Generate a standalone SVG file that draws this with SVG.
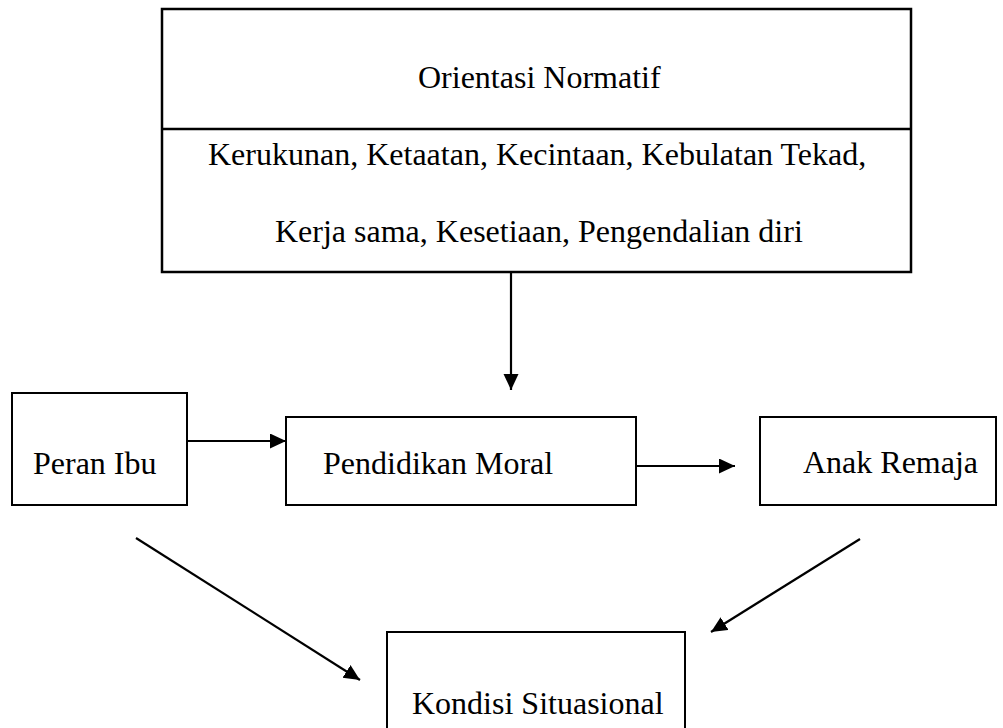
<svg xmlns="http://www.w3.org/2000/svg" width="1003" height="728" viewBox="0 0 1003 728">
<style>
  .box { fill: #ffffff; stroke: #000000; stroke-width: 2; }
  .lbl { font-family: "Liberation Serif", "Times New Roman", serif; font-size: 32px; fill: #000000; }
  .conn { stroke: #000000; stroke-width: 2.2; fill: none; marker-end: url(#arrow); }
</style>
<defs>
  <marker id="arrow" markerUnits="userSpaceOnUse" markerWidth="17" markerHeight="16" refX="16" refY="7.5" orient="auto">
    <path d="M0,0 L16,7.5 L0,15 z" fill="#000000"/>
  </marker>
</defs>
<rect width="1003" height="728" fill="#ffffff"/>
<g id="orientasi-normatif">
  <rect class="box" x="162" y="9" width="749" height="263" style="stroke-width:2.5"/>
  <line x1="162" y1="129" x2="911" y2="129" stroke="#000000" stroke-width="2.5"/>
  <text class="lbl" x="418" y="88">Orientasi Normatif</text>
  <text class="lbl" x="208" y="165">Kerukunan, Ketaatan, Kecintaan, Kebulatan Tekad,</text>
  <text class="lbl" x="275" y="242">Kerja sama, Kesetiaan, Pengendalian diri</text>
</g>
<g id="peran-ibu">
  <rect class="box" x="12" y="393" width="175" height="112"/>
  <text class="lbl" x="33" y="474">Peran Ibu</text>
</g>
<g id="pendidikan-moral">
  <rect class="box" x="286" y="417" width="350" height="88"/>
  <text class="lbl" x="323" y="474">Pendidikan Moral</text>
</g>
<g id="anak-remaja">
  <rect class="box" x="760" y="417" width="236" height="88"/>
  <text class="lbl" x="803" y="473">Anak Remaja</text>
</g>
<g id="kondisi-situasional">
  <rect class="box" x="387" y="632" width="298" height="120"/>
  <text class="lbl" x="412" y="714">Kondisi Situasional</text>
</g>
<g id="connectors">
  <line class="conn" x1="511" y1="272" x2="511" y2="390"/>
  <line class="conn" x1="187" y1="441" x2="286" y2="441"/>
  <line class="conn" x1="636" y1="466" x2="735" y2="466"/>
  <line class="conn" x1="136" y1="538" x2="360" y2="680"/>
  <line class="conn" x1="860" y1="539" x2="711" y2="632"/>
</g>
</svg>
